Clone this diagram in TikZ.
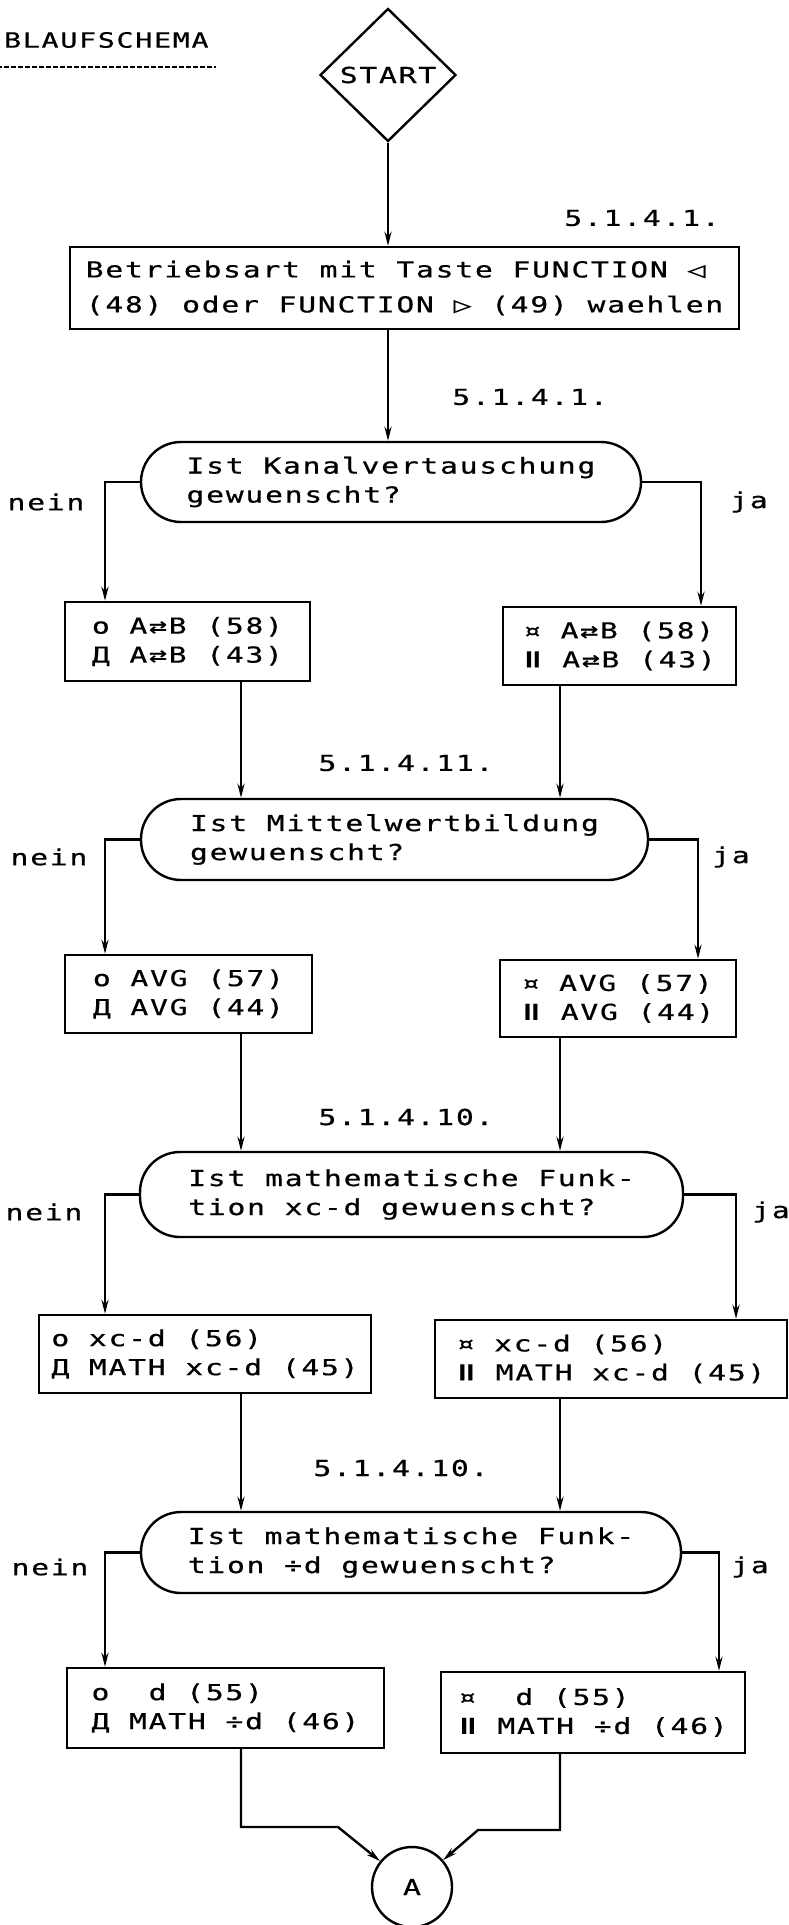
\documentclass[tikz,border=0pt]{standalone}
\usepackage{fontspec}
\newfontfamily\plotterfont[FakeStretch=1.35,LetterSpace=8,FakeBold=0.6]{DejaVu Sans Mono}
\newfontfamily\keyfont[FakeStretch=1.8,FakeBold=0.6]{DejaVu Sans}
\newcommand{\keydown}{{\keyfont Ⅱ}}
\usetikzlibrary{shapes.geometric}
\usetikzlibrary{arrows.meta}

\begin{document}
\begin{tikzpicture}[x=0.5pt,y=-0.5pt,
  every node/.style={font=\plotterfont\fontsize{11}{14.5}\selectfont},
  stepbox/.style={draw,line width=1.2pt,align=left,inner sep=0pt},
  query/.style={draw,line width=1.2pt,align=left,rounded corners=20pt,inner sep=0pt},
  flow/.style={line width=1.2pt,-{Stealth[length=7pt,width=3.5pt]}}]
\def\leftrailx{105}
\def\leftcolx{241}
\def\rightcolx{560}

\useasboundingbox (0,0) rectangle (788,1925);

\node[anchor=west,font=\plotterfont\fontsize{10.5}{12}\selectfont] (title) at (-3,40) {BLAUFSCHEMA};
\draw[dash pattern=on 2.5pt off 1pt,line width=0.6pt]
  ([yshift=-6pt]title.south west) -- ([yshift=-6pt]title.south east);

\node[diamond,draw,line width=1.2pt,aspect=1,inner sep=0pt,minimum width=68pt,minimum height=66.5pt]
  (start) at (388,75) {START};
\node[stepbox,minimum width=334.5pt,minimum height=41pt,font=\plotterfont\fontsize{11}{17.5}\selectfont]
  (mode) at (404.5,288) {Betriebsart mit Taste FUNCTION ◁\\(48) oder FUNCTION ▷ (49) waehlen};

\node[query,minimum width=250pt,minimum height=40pt] (kanal) at (391,482) {Ist Kanalvertauschung\\gewuenscht?};
\node[query,minimum width=253.5pt,minimum height=40.5pt] (mittel) at (394.5,839.5) {Ist Mittelwertbildung\\gewuenscht?};
\node[query,minimum width=271.5pt,minimum height=42.5pt] (mathxc) at (411.5,1194.5) {Ist mathematische Funk-\\tion xc-d gewuenscht?};
\node[query,minimum width=270pt,minimum height=40.5pt] (mathdiv) at (411,1552.5) {Ist mathematische Funk-\\tion ÷d gewuenscht?};

\node[stepbox,minimum width=122.5pt,minimum height=39.5pt] (L1) at (187.5,641.5) {o A⇄B (58)\\Д A⇄B (43)};
\node[stepbox,minimum width=116.5pt,minimum height=39pt] (R1) at (619.5,646) {¤ A⇄B (58)\\\keydown{} A⇄B (43)};
\node[stepbox,minimum width=123.5pt,minimum height=39pt] (L2) at (188.5,994) {o AVG (57)\\Д AVG (44)};
\node[stepbox,minimum width=118pt,minimum height=38.5pt] (R2) at (618,998.5) {¤ AVG (57)\\\keydown{} AVG (44)};
\node[stepbox,minimum width=166pt,minimum height=39pt] (L3) at (205,1354) {o xc-d (56)\\Д MATH xc-d (45)};
\node[stepbox,minimum width=176pt,minimum height=39pt] (R3) at (611,1359) {¤ xc-d (56)\\\keydown{} MATH xc-d (45)};
\node[stepbox,minimum width=158.5pt,minimum height=40pt] (L4) at (225.5,1708) {o~~d (55)\\Д MATH ÷d (46)};
\node[stepbox,minimum width=152pt,minimum height=40.5pt] (R4) at (593,1712.5) {¤~~d (55)\\\keydown{} MATH ÷d (46)};

\node[circle,draw,line width=1.2pt,minimum size=40pt,inner sep=0pt] (A) at (412,1887) {A};

\node (sec1) at (642,218) {5.1.4.1.};
\node (sec2) at (530,397) {5.1.4.1.};
\node (sec3) at (406,763) {5.1.4.11.};
\node (sec4) at (406,1117) {5.1.4.10.};
\node (sec5) at (401,1468) {5.1.4.10.};

\foreach \row/\nx/\jx/\ly in {1/46/749/502,2/49/731/857,3/44/771/1212,4/50/750/1567} {
  \node (nein\row) at (\nx,\ly) {nein};
  \node (ja\row) at (\jx,\ly) {ja};
}

\coordinate (leftrail) at (\leftrailx,0);
\coordinate (colL) at (\leftcolx,0);
\coordinate (colR) at (\rightcolx,0);

\draw[flow] (start.south) -- (start.south |- mode.north);
\draw[flow] (start |- mode.south) -- (start |- kanal.north);

\foreach \q/\row/\rx in {kanal/1/701,mittel/2/698,mathxc/3/736,mathdiv/4/719} {
  \coordinate (rail\row) at (\rx,0);
  \draw[flow] (\q.west) -- (\q.west -| leftrail) -- (L\row.north -| leftrail);
  \draw[flow] (\q.east) -- (\q.east -| rail\row) -- (R\row.north -| rail\row);
}

\foreach \row/\q in {1/mittel,2/mathxc,3/mathdiv} {
  \draw[flow] (L\row.south -| colL) -- (\q.north -| colL);
  \draw[flow] (R\row.south -| colR) -- (\q.north -| colR);
}

\coordinate (mergeL) at (338,1827);
\coordinate (mergeR) at (478,1830);
\draw[flow] (L4.south -| colL) |- (mergeL) -- (A);
\draw[flow] (R4.south -| colR) |- (mergeR) -- (A);
\end{tikzpicture}
\end{document}
